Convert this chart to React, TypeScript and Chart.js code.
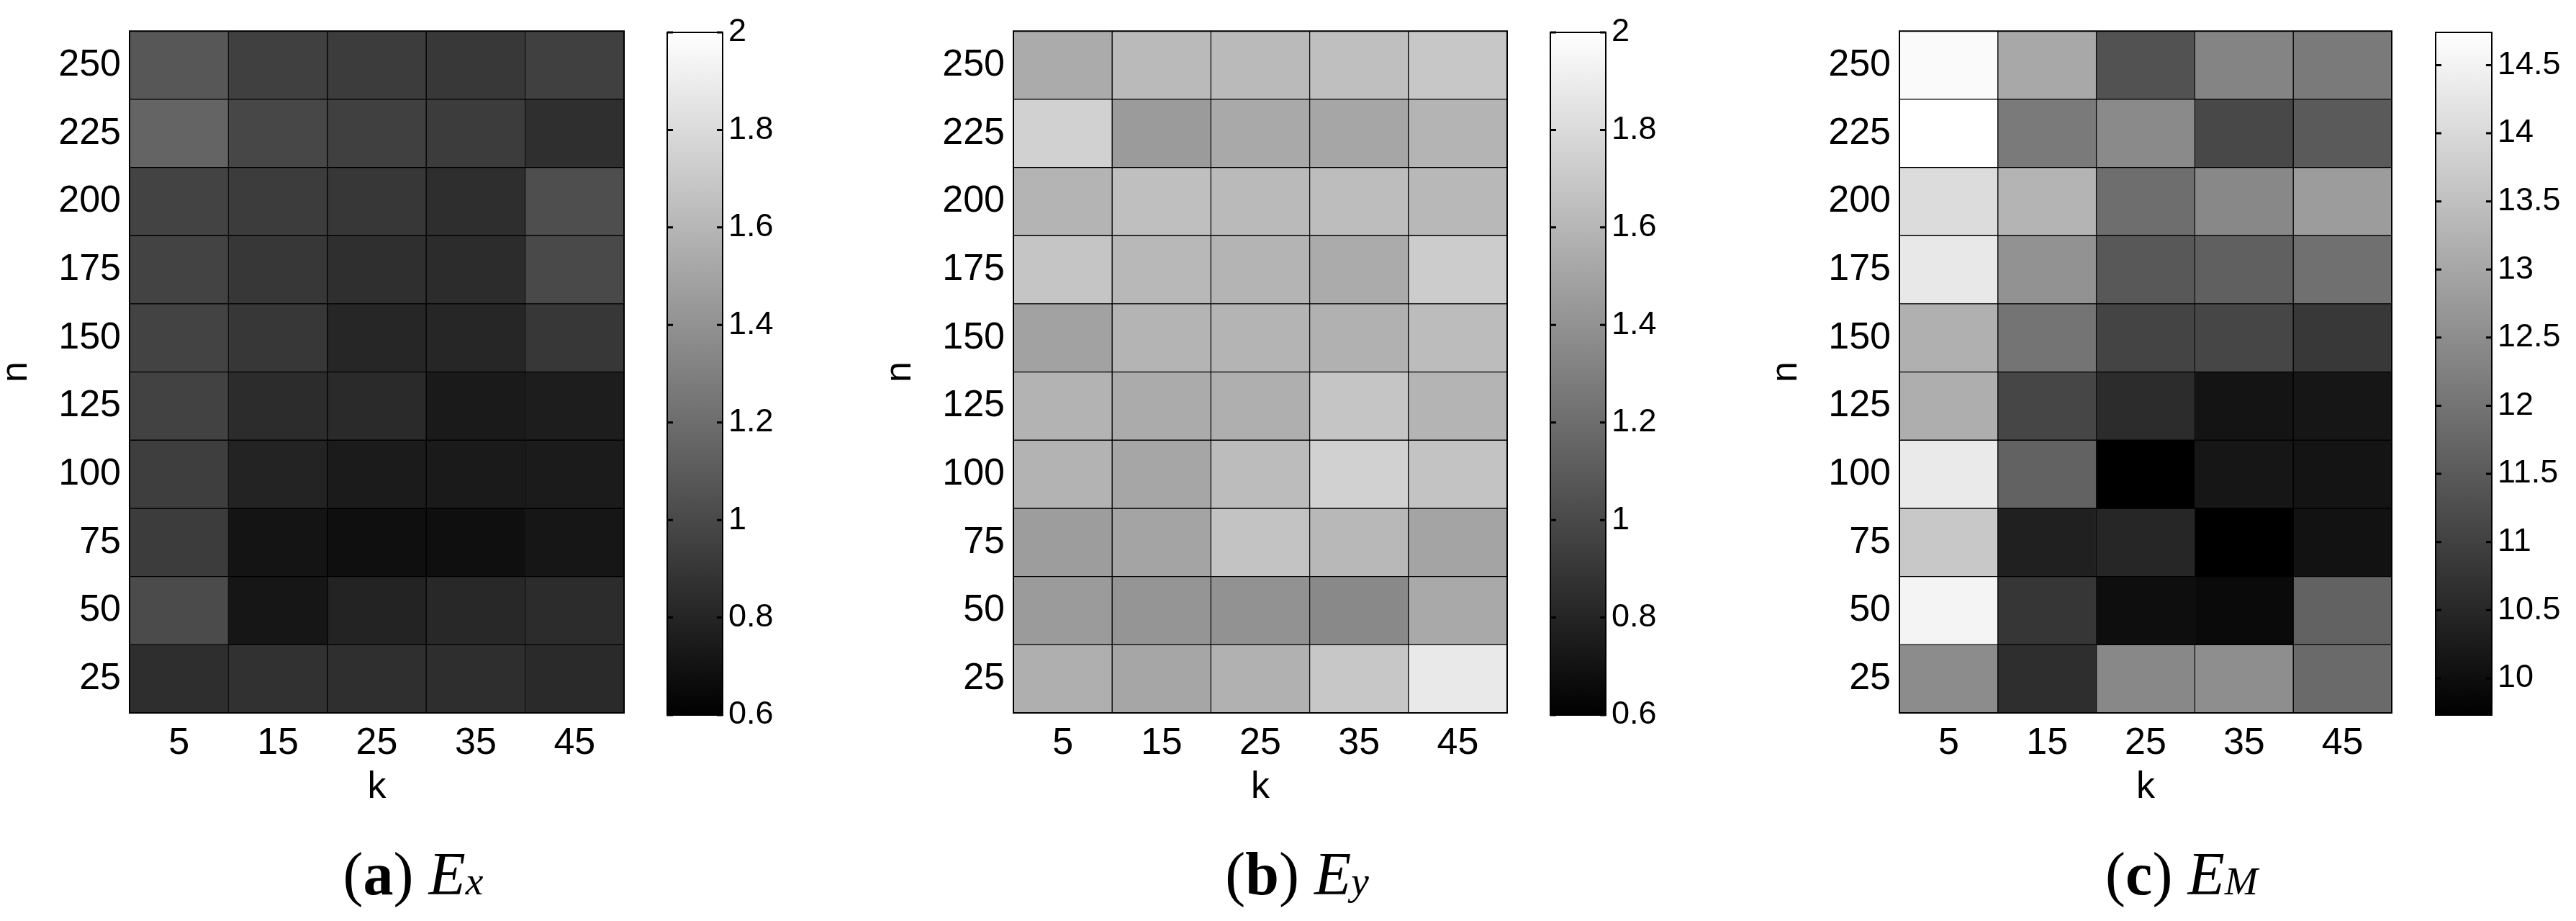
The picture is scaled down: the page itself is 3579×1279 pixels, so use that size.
import React, { useEffect, useRef } from "react";
import { Chart, registerables } from "chart.js";

Chart.register(...registerables);

// ---------- data ----------
const kLabels = ["5", "15", "25", "35", "45"];
const nValues = [25, 50, 75, 100, 125, 150, 175, 200, 225, 250];

// rows follow nValues (n = 25 ... 250), columns follow kLabels
const exValues = [
  [0.85, 0.87, 0.86, 0.85, 0.83],
  [1.01, 0.72, 0.79, 0.82, 0.84],
  [0.93, 0.71, 0.68, 0.68, 0.72],
  [0.94, 0.79, 0.75, 0.74, 0.75],
  [0.96, 0.84, 0.83, 0.74, 0.76],
  [0.97, 0.9, 0.81, 0.81, 0.9],
  [0.97, 0.9, 0.86, 0.84, 1.0],
  [0.97, 0.93, 0.9, 0.85, 1.03],
  [1.15, 0.99, 0.95, 0.93, 0.86],
  [1.08, 0.95, 0.93, 0.91, 0.95],
];

const eyValues = [
  [1.56, 1.51, 1.57, 1.69, 1.88],
  [1.45, 1.42, 1.4, 1.35, 1.53],
  [1.46, 1.5, 1.67, 1.61, 1.5],
  [1.58, 1.51, 1.63, 1.75, 1.67],
  [1.58, 1.54, 1.56, 1.68, 1.59],
  [1.49, 1.59, 1.59, 1.57, 1.63],
  [1.68, 1.61, 1.59, 1.54, 1.72],
  [1.59, 1.65, 1.62, 1.64, 1.61],
  [1.75, 1.45, 1.53, 1.51, 1.59],
  [1.54, 1.62, 1.62, 1.65, 1.69],
];

const emValues = [
  [12.48, 10.63, 12.4, 12.52, 11.81],
  [14.52, 10.79, 10.0, 9.93, 11.66],
  [13.66, 10.36, 10.48, 9.73, 10.08],
  [14.33, 11.66, 9.73, 10.16, 10.12],
  [13.15, 11.11, 10.59, 10.12, 10.16],
  [13.19, 12.01, 11.07, 11.11, 10.83],
  [14.29, 12.6, 11.46, 11.62, 11.93],
  [14.05, 13.27, 11.89, 12.4, 12.79],
  [14.74, 12.13, 12.44, 11.14, 11.5],
  [14.64, 13.03, 11.34, 12.32, 12.13],
];

const exColorRange = [0.6, 2];
const eyColorRange = [0.6, 2];
const emColorRange = [9.73, 14.74];
const exColorTicks = [0.6, 0.8, 1, 1.2, 1.4, 1.6, 1.8, 2];
const eyColorTicks = [0.6, 0.8, 1, 1.2, 1.4, 1.6, 1.8, 2];
const emColorTicks = [10, 10.5, 11, 11.5, 12, 12.5, 13, 13.5, 14, 14.5];

// ---------- styling / layout ----------
const SANS = "'Liberation Sans', Arial, Helvetica, sans-serif";
const SERIF = "'Liberation Serif', 'Times New Roman', serif";
const HEAT_TOP = 43;
const HEAT_BOTTOM = 990;
const CB_TOP = 45;
const CB_BOTTOM = 993;
const Y_AXIS_W = 180;
const HEAT_CANVAS_H = 1130;
const CB_CANVAS_H = 1060;
const CB_PAD_LEFT = 20;
const CB_LABEL_W = 120;

function gray(v: number, min: number, max: number) {
  let t = (v - min) / (max - min);
  t = Math.max(0, Math.min(1, t));
  const g = Math.round(t * 255);
  return `rgb(${g},${g},${g})`;
}

const framePlugin = {
  id: "frame",
  afterDatasetsDraw(chart: any) {
    const { ctx, chartArea } = chart;
    ctx.save();
    ctx.strokeStyle = "#000";
    ctx.lineWidth = 2;
    ctx.strokeRect(chartArea.left, chartArea.top, chartArea.right - chartArea.left, chartArea.bottom - chartArea.top);
    ctx.restore();
  },
};

const cbTickPlugin = {
  id: "cbticks",
  afterDatasetsDraw(chart: any) {
    const { ctx, chartArea } = chart;
    const ys = chart.scales.y;
    ctx.save();
    ctx.strokeStyle = "#000";
    ctx.lineWidth = 3;
    for (const t of ys.ticks) {
      const y = ys.getPixelForValue(t.value);
      ctx.beginPath();
      ctx.moveTo(chartArea.left, y);
      ctx.lineTo(chartArea.left + 8, y);
      ctx.moveTo(chartArea.right - 8, y);
      ctx.lineTo(chartArea.right, y);
      ctx.stroke();
    }
    ctx.restore();
  },
};

function Heatmap(props: { values: number[][]; range: number[]; heatLeft: number; heatRight: number }) {
  const { values, range, heatLeft, heatRight } = props;
  const ref = useRef<HTMLCanvasElement | null>(null);
  const canvasLeft = heatLeft - Y_AXIS_W;
  const width = heatRight - canvasLeft + 20;
  useEffect(() => {
    if (!ref.current) return;
    const step = nValues[1] - nValues[0];
    const datasets = nValues.map((n, ri) => ({
      data: kLabels.map(() => [n - step / 2, n + step / 2]),
      backgroundColor: values[ri].map((v) => gray(v, range[0], range[1])),
      borderColor: "#000",
      borderWidth: 1,
      borderSkipped: false,
      grouped: false,
      barPercentage: 1,
      categoryPercentage: 1,
    }));
    const chart = new Chart(ref.current, {
      type: "bar",
      data: { labels: kLabels, datasets: datasets as any },
      options: {
        animation: false,
        responsive: false,
        events: [],
        layout: { padding: { top: HEAT_TOP, right: 20, bottom: 0, left: 0 } },
        plugins: { legend: { display: false }, tooltip: { enabled: false } },
        scales: {
          x: {
            type: "category",
            offset: true,
            grid: { display: false, drawTicks: false },
            border: { display: false },
            ticks: { color: "#000", font: { family: SANS, size: 52 }, padding: 11, autoSkip: false, maxRotation: 0 },
            title: { display: true, text: "k", color: "#000", font: { family: SANS, size: 52, lineHeight: 1 }, padding: { top: 0, bottom: 10 } },
            afterFit: (s: any) => {
              s.height = HEAT_CANVAS_H - HEAT_BOTTOM;
            },
          },
          y: {
            type: "linear",
            min: nValues[0] - step / 2,
            max: nValues[nValues.length - 1] + step / 2,
            grid: { display: false, drawTicks: false },
            border: { display: false },
            afterBuildTicks: (axis: any) => {
              axis.ticks = nValues.map((v) => ({ value: v }));
            },
            ticks: {
              color: "#000",
              font: { family: SANS, size: 52 },
              padding: 12,
              autoSkip: false,
              callback: (v: any) => String(v),
            },
            title: { display: true, text: "n", color: "#000", font: { family: SANS, size: 52, lineHeight: 1 }, padding: { top: -3, bottom: 0 } },
            afterFit: (s: any) => {
              s.width = Y_AXIS_W;
            },
          },
        },
      } as any,
      plugins: [framePlugin],
    });
    return () => chart.destroy();
  }, []);
  return (
    <canvas
      ref={ref}
      width={width}
      height={HEAT_CANVAS_H}
      style={{ position: "absolute", left: canvasLeft, top: 0, width, height: HEAT_CANVAS_H }}
    />
  );
}

function Colorbar(props: { range: number[]; ticks: number[]; cbLeft: number; cbRight: number }) {
  const { range, ticks, cbLeft, cbRight } = props;
  const ref = useRef<HTMLCanvasElement | null>(null);
  const canvasLeft = cbLeft - CB_PAD_LEFT;
  const width = CB_PAD_LEFT + (cbRight - cbLeft) + CB_LABEL_W;
  useEffect(() => {
    if (!ref.current) return;
    const chart = new Chart(ref.current, {
      type: "bar",
      data: {
        labels: [""],
        datasets: [
          {
            data: [[range[0], range[1]]],
            backgroundColor: (c: any) => {
              const ch = c.chart;
              const ys = ch.scales.y;
              if (!ch.chartArea || !ys) return "#808080";
              const g = ch.ctx.createLinearGradient(0, ys.getPixelForValue(range[0]), 0, ys.getPixelForValue(range[1]));
              g.addColorStop(0, "#000");
              g.addColorStop(1, "#fff");
              return g;
            },
            borderWidth: 0,
            barPercentage: 1,
            categoryPercentage: 1,
          } as any,
        ],
      },
      options: {
        animation: false,
        responsive: false,
        events: [],
        layout: { padding: { top: CB_TOP, right: 0, bottom: CB_CANVAS_H - CB_BOTTOM, left: CB_PAD_LEFT } },
        plugins: { legend: { display: false }, tooltip: { enabled: false } },
        scales: {
          x: { display: false, offset: true },
          y: {
            type: "linear",
            position: "right",
            min: range[0],
            max: range[1],
            grid: { display: false, drawTicks: false },
            border: { display: false },
            afterBuildTicks: (axis: any) => {
              axis.ticks = ticks.map((v) => ({ value: v }));
            },
            ticks: {
              color: "#000",
              font: { family: SANS, size: 45 },
              padding: 8,
              autoSkip: false,
              callback: (v: any) => String(v),
            },
            afterFit: (s: any) => {
              s.width = CB_LABEL_W;
            },
          },
        },
      } as any,
      plugins: [framePlugin, cbTickPlugin],
    });
    return () => chart.destroy();
  }, []);
  return (
    <canvas
      ref={ref}
      width={width}
      height={CB_CANVAS_H}
      style={{ position: "absolute", left: canvasLeft, top: 0, width, height: CB_CANVAS_H }}
    />
  );
}

function Caption(props: { center: number; letter: string; sub: string }) {
  return (
    <div
      style={{
        position: "absolute",
        left: props.center,
        top: 1172,
        transform: "translateX(-50%)",
        fontFamily: SERIF,
        fontSize: 84,
        lineHeight: 1,
        whiteSpace: "nowrap",
        color: "#000",
      }}
    >
      (<b>{props.letter}</b>) <i>E</i>
      <i style={{ fontSize: "0.66em" }}>{props.sub}</i>
    </div>
  );
}

const panels = [
  { values: exValues, range: exColorRange, ticks: exColorTicks, heatLeft: 180, heatRight: 867, cbLeft: 927, cbRight: 1004, cap: 574, letter: "a", sub: "x" },
  { values: eyValues, range: eyColorRange, ticks: eyColorTicks, heatLeft: 1408, heatRight: 2094, cbLeft: 2154, cbRight: 2231, cap: 1802, letter: "b", sub: "y" },
  { values: emValues, range: emColorRange, ticks: emColorTicks, heatLeft: 2639, heatRight: 3323, cbLeft: 3384, cbRight: 3462, cap: 3031, letter: "c", sub: "M" },
];

export default function App() {
  return (
    <div style={{ position: "fixed", left: 0, top: 0, width: 3579, height: 1279, background: "#fff", overflow: "hidden" }}>
      {panels.map((p, i) => (
        <React.Fragment key={i}>
          <Heatmap values={p.values} range={p.range} heatLeft={p.heatLeft} heatRight={p.heatRight} />
          <Colorbar range={p.range} ticks={p.ticks} cbLeft={p.cbLeft} cbRight={p.cbRight} />
          <Caption center={p.cap} letter={p.letter} sub={p.sub} />
        </React.Fragment>
      ))}
    </div>
  );
}
